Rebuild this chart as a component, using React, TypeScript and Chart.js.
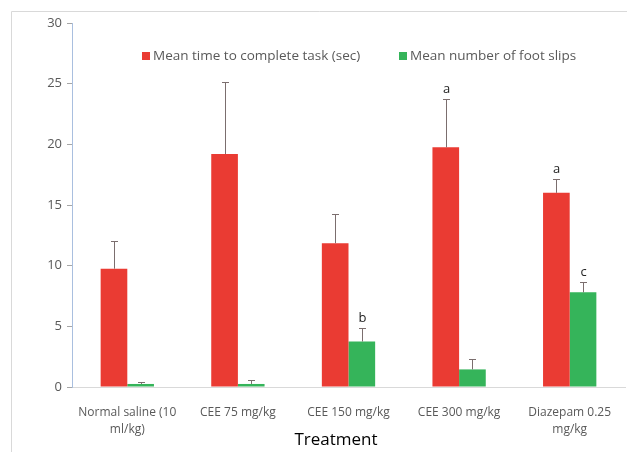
import React, { useEffect, useRef } from "react";
import { Chart, registerables } from "chart.js";

Chart.register(...registerables);

const categories: (string | string[])[] = [
  ["Normal saline (10", "ml/kg)"],
  "CEE 75 mg/kg",
  "CEE 150 mg/kg",
  "CEE 300 mg/kg",
  ["Diazepam 0.25", "mg/kg"],
];
const timeMeans = [9.75, 19.2, 11.85, 19.75, 16.0];
const timeErrors = [2.25, 5.9, 2.4, 3.95, 1.15];
const timeLetters = ["", "", "", "a", "a"];
const slipMeans = [0.25, 0.25, 3.75, 1.45, 7.8];
const slipErrors = [0.2, 0.35, 1.1, 0.85, 0.85];
const slipLetters = ["", "", "b", "", "c"];
const yTicks = [0, 5, 10, 15, 20, 25, 30];
const seriesNames = ["Mean time to complete task (sec)", "Mean number of foot slips"];
const axisTitle = "Treatment";

const RED = "#EA3B33";
const GREEN = "#35B45A";
const GRAY_TEXT = "#595959";
const FONT = "'Open Sans', 'Liberation Sans', sans-serif";

const errorPlugin = {
  id: "errorBarsAndExtras",
  beforeDraw(chart: any) {
    const ctx = chart.ctx;
    ctx.save();
    ctx.strokeStyle = "#D9D9D9";
    ctx.lineWidth = 1;
    ctx.beginPath();
    ctx.moveTo(11.5, chart.height);
    ctx.lineTo(11.5, 11.5);
    ctx.lineTo(chart.width, 11.5);
    ctx.stroke();
    ctx.restore();
  },
  afterDatasetsDraw(chart: any) {
    const ctx = chart.ctx;
    const yScale = chart.scales.y;
    const errs = [timeErrors, slipErrors];
    const letters = [timeLetters, slipLetters];
    ctx.save();
    chart.data.datasets.forEach((ds: any, di: number) => {
      const meta = chart.getDatasetMeta(di);
      meta.data.forEach((bar: any, i: number) => {
        const v = ds.data[i];
        const top = yScale.getPixelForValue(v + errs[di][i]);
        const base = yScale.getPixelForValue(v);
        const x = Math.round(bar.x) + 0.5;
        ctx.strokeStyle = "#7B6E6E";
        ctx.lineWidth = 1;
        ctx.beginPath();
        ctx.moveTo(x, base);
        ctx.lineTo(x, Math.round(top) + 0.5);
        ctx.moveTo(x - 3.5, Math.round(top) + 0.5);
        ctx.lineTo(x + 3.5, Math.round(top) + 0.5);
        ctx.stroke();
        const letter = letters[di][i];
        if (letter) {
          ctx.fillStyle = "#222222";
          ctx.font = `13px ${FONT}`;
          ctx.textAlign = "center";
          ctx.textBaseline = "alphabetic";
          ctx.fillText(letter, x, top - 6);
        }
      });
    });
    ctx.restore();
  },
  afterDraw(chart: any) {
    const ctx = chart.ctx;
    ctx.save();
    // legend
    ctx.font = `13.5px ${FONT}`;
    ctx.textBaseline = "middle";
    ctx.textAlign = "left";
    const items = [
      { x: 142, color: RED, text: seriesNames[0] },
      { x: 399, color: GREEN, text: seriesNames[1] },
    ];
    items.forEach((it) => {
      ctx.fillStyle = it.color;
      ctx.fillRect(it.x, 52, 8, 8);
      ctx.fillStyle = GRAY_TEXT;
      ctx.fillText(it.text, it.x + 11, 56.5);
    });
    // axis title
    ctx.font = `17px ${FONT}`;
    ctx.fillStyle = "#000000";
    ctx.textAlign = "center";
    ctx.fillText(axisTitle, 336, 440);
    ctx.restore();
  },
};

export default function App() {
  const canvasRef = useRef<HTMLCanvasElement | null>(null);

  useEffect(() => {
    if (!canvasRef.current) return;
    const chart = new Chart(canvasRef.current, {
      type: "bar",
      data: {
        labels: categories as any,
        datasets: [
          {
            label: seriesNames[0],
            data: timeMeans,
            backgroundColor: RED,
            categoryPercentage: 0.482,
            barPercentage: 1,
          },
          {
            label: seriesNames[1],
            data: slipMeans,
            backgroundColor: GREEN,
            categoryPercentage: 0.482,
            barPercentage: 1,
          },
        ],
      },
      options: {
        animation: false,
        responsive: true,
        maintainAspectRatio: false,
        layout: { padding: { top: 23, right: 2, left: 0, bottom: 0 } },
        plugins: {
          legend: { display: false },
          tooltip: { enabled: false },
        },
        scales: {
          x: {
            grid: { display: false },
            border: { display: true, color: "#D9D9D9" },
            ticks: {
              color: GRAY_TEXT,
              font: { family: FONT, size: 12, lineHeight: 1.4 },
              padding: 9,
              maxRotation: 0,
              autoSkip: false,
            },
            afterFit(scale: any) {
              scale.height = 65;
            },
          },
          y: {
            min: 0,
            max: 30,
            afterBuildTicks(scale: any) {
              scale.ticks = yTicks.map((v) => ({ value: v }));
            },
            grid: {
              display: true,
              drawOnChartArea: false,
              drawTicks: true,
              tickLength: 5,
              tickColor: "#A6A6A6",
            },
            border: { display: true, color: "#A9BFDF" },
            ticks: {
              color: GRAY_TEXT,
              font: { family: FONT, size: 13 },
              padding: 5,
            },
            afterFit(scale: any) {
              scale.width = 72;
            },
          },
        },
      },
      plugins: [errorPlugin],
    });
    return () => chart.destroy();
  }, []);

  return (
    <div style={{ position: "fixed", left: 0, top: 0, width: 627, height: 452, background: "#fff" }}>
      <canvas ref={canvasRef} />
    </div>
  );
}
